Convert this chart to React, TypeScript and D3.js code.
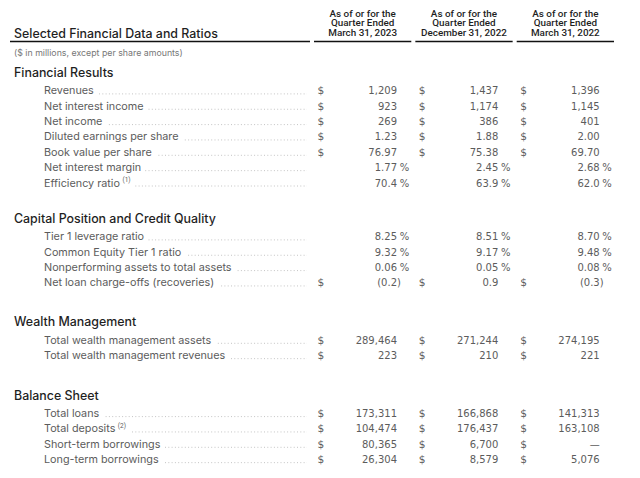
import React, { useEffect, useRef } from "react";
import * as d3 from "d3";

const title = "Selected Financial Data and Ratios";
const subtitle = "($ in millions, except per share amounts)";
const headerLines = ["As of or for the", "Quarter Ended"];
const periods = ["March 31, 2023", "December 31, 2022", "March 31, 2022"];
const sectionTitles = [
  "Financial Results",
  "Capital Position and Credit Quality",
  "Wealth Management",
  "Balance Sheet",
];
const rowLabels = [
  "Revenues",
  "Net interest income",
  "Net income",
  "Diluted earnings per share",
  "Book value per share",
  "Net interest margin",
  "Efficiency ratio",
  "Tier 1 leverage ratio",
  "Common Equity Tier 1 ratio",
  "Nonperforming assets to total assets",
  "Net loan charge-offs (recoveries)",
  "Total wealth management assets",
  "Total wealth management revenues",
  "Total loans",
  "Total deposits",
  "Short-term borrowings",
  "Long-term borrowings",
];
const rowSection = [0, 0, 0, 0, 0, 0, 0, 1, 1, 1, 1, 2, 2, 3, 3, 3, 3];
const rowFootnotes = ["", "", "", "", "", "", "(1)", "", "", "", "", "", "", "", "(2)", "", ""];
const rowKinds = [
  "usd0", "usd0", "usd0", "usd2", "usd2", "pct2", "pct1",
  "pct2", "pct2", "pct2", "usd1",
  "usd0", "usd0",
  "usd0", "usd0", "usd0", "usd0",
];
const q1_2023 = [1209, 923, 269, 1.23, 76.97, 1.77, 70.4, 8.25, 9.32, 0.06, -0.2, 289464, 223, 173311, 104474, 80365, 26304];
const q4_2022 = [1437, 1174, 386, 1.88, 75.38, 2.45, 63.9, 8.51, 9.17, 0.05, 0.9, 271244, 210, 166868, 176437, 6700, 8579];
const q1_2022 = [1396, 1145, 401, 2.0, 69.7, 2.68, 62.0, 8.7, 9.48, 0.08, -0.3, 274195, 221, 141313, 163108, null, 5076];
const columns = [q1_2023, q4_2022, q1_2022];

const W = 640;
const H = 478;
const LABEL_FONT = "Inter, 'Open Sans', sans-serif";
const NUM_FONT = "'DejaVu Sans', Verdana, sans-serif";
const HEAD_FONT = "Roboto, 'Liberation Sans', sans-serif";

export default function App() {
  const ref = useRef<SVGSVGElement | null>(null);

  useEffect(() => {
    const svg = d3.select(ref.current);
    svg.selectAll("*").remove();

    const x = d3.scaleBand<string>().domain(periods).range([314, 614]).paddingInner(0.04);
    const sectionY = d3.scaleOrdinal<number, number>().domain([0, 1, 2, 3]).range([72.3, 218.3, 321.7, 395]);
    const rowStep = d3.scaleLinear().domain([0, 1]).range([18.3, 33.65]);

    const dark = "#1f1f1f";
    const gray = "#5c5c5c";

    svg.append("text").attr("x", 14).attr("y", 37.5).attr("font-family", LABEL_FONT)
      .attr("font-size", 12.4).attr("font-weight", 500).attr("fill", dark).text(title);
    svg.append("line").attr("x1", 10).attr("x2", 310).attr("y1", 41.5).attr("y2", 41.5)
      .attr("stroke", "#111").attr("stroke-width", 1.5);

    periods.forEach((p) => {
      const cx = (x(p) as number) + x.bandwidth() / 2;
      const lines = [...headerLines, p];
      lines.forEach((t, i) => {
        svg.append("text").attr("x", cx).attr("y", 16.6 + i * 9.8).attr("text-anchor", "middle")
          .attr("font-family", HEAD_FONT).attr("font-size", 9.9).attr("font-weight", 500)
          .attr("fill", dark).text(t);
      });
      svg.append("line").attr("x1", x(p) as number).attr("x2", (x(p) as number) + x.bandwidth())
        .attr("y1", 41.5).attr("y2", 41.5).attr("stroke", "#111").attr("stroke-width", 1.5);
    });

    svg.append("text").attr("x", 14).attr("y", 55.5).attr("font-family", LABEL_FONT)
      .attr("font-size", 8.8).attr("fill", "#777").text(subtitle);

    sectionTitles.forEach((s, i) => {
      svg.append("text").attr("x", 14).attr("y", sectionY(i) + 4.5).attr("font-family", LABEL_FONT)
        .attr("font-size", 12.4).attr("font-weight", 500).attr("fill", dark).text(s);
    });

    const idxInSection: number[] = [];
    const counts: Record<number, number> = {};
    rowSection.forEach((s) => {
      counts[s] = counts[s] ?? 0;
      idxInSection.push(counts[s]);
      counts[s] += 1;
    });

    const fmt = (kind: string, v: number | null) => {
      if (v === null) return { body: "\u2014", tail: "" };
      if (kind === "usd0") return { body: d3.format(",")(v), tail: "" };
      if (kind === "usd2") return { body: d3.format(".2f")(v), tail: "" };
      if (kind === "pct2") return { body: d3.format(".2f")(v), tail: " %" };
      if (kind === "pct1") return { body: d3.format(".1f")(v), tail: " %" };
      if (kind === "usd1") {
        if (v < 0) return { body: "(" + d3.format(".1f")(-v), tail: ")" };
        return { body: d3.format(".1f")(v), tail: "" };
      }
      return { body: String(v), tail: "" };
    };

    rowLabels.forEach((label, r) => {
      const cy = sectionY(rowSection[r]) + rowStep(idxInSection[r]);
      const base = cy + 3.8;
      const kind = rowKinds[r];
      const g = svg.append("g");
      const t = g.append("text").attr("x", 44).attr("y", base).attr("font-family", LABEL_FONT)
        .attr("font-size", 10.8).attr("fill", gray).text(label);
      let end = 44 + (t.node() as SVGTextElement).getComputedTextLength();
      if (rowFootnotes[r]) {
        const f = g.append("text").attr("x", end + 2.5).attr("y", base - 4.5).attr("font-family", HEAD_FONT)
          .attr("font-size", 6.5).attr("fill", gray).text(rowFootnotes[r]);
        end = end + 2.5 + (f.node() as SVGTextElement).getComputedTextLength();
      }
      const leadStart = Math.ceil((end + 4) / 3.3) * 3.3;
      g.append("line").attr("x1", leadStart).attr("x2", 307).attr("y1", base - 0.5).attr("y2", base - 0.5)
        .attr("stroke", "#c4c4c4").attr("stroke-width", 1).attr("stroke-dasharray", "1,2.3");

      periods.forEach((p, c) => {
        const x0 = x(p) as number;
        const v = columns[c][r];
        if (kind.startsWith("usd")) {
          g.append("text").attr("x", x0 + 3.5).attr("y", base).attr("font-family", NUM_FONT)
            .attr("font-size", 10.6).attr("fill", gray).text("$");
        }
        const { body, tail } = fmt(kind, v);
        const nx = x0 + 83;
        g.append("text").attr("x", nx).attr("y", base).attr("text-anchor", "end")
          .attr("font-family", NUM_FONT).attr("font-size", 10).attr("fill", gray).text(body);
        if (tail) {
          g.append("text").attr("x", tail === ")" ? nx : nx - 0.5).attr("y", base)
            .attr("font-family", NUM_FONT).attr("font-size", 10).attr("fill", gray)
            .style("white-space", "pre").text(tail);
        }
      });
    });
  }, []);

  return (
    <svg
      ref={ref}
      width={W}
      height={H}
      style={{ position: "absolute", left: 0, top: 0, background: "#fff", display: "block" }}
    />
  );
}
